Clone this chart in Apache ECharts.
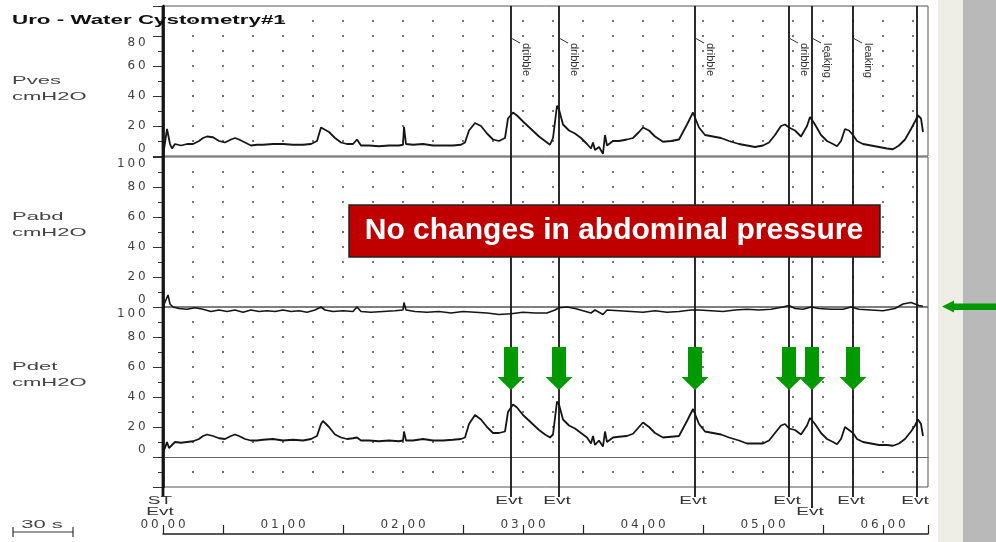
<!DOCTYPE html>
<html><head><meta charset="utf-8">
<script src="https://cdn.jsdelivr.net/npm/echarts/dist/echarts.min.js"></script>
<style>html,body{margin:0;padding:0;background:#fff}#c{width:996px;height:542px}</style>
</head><body><div id="c"></div>
<script>
// ---------------- data (time in seconds, pressure in cmH2O) ----------------
const chartTitle = 'Uro - Water Cystometry#1';
const channelNames = ['Pves', 'Pabd', 'Pdet'];
const channelUnit = 'cmH2O';
const pves = [[0,0],[1,1],[2,18],[2.5,19],[3.5,8],[4.5,5],[6,8],[9,7],[12,8],[15,8],[18,10],[20,12],[22,13],[25,12.5],[28,10],[31,9],[34,11],[36,12],[38,11],[41,9],[44,7],[47,7.5],[50,7.5],[55,8],[60,8],[65,7.5],[70,7.5],[74,8],[77,10],[79,19],[80,19.5],[83,16],[86,12],[89,9],[92,8],[95,8],[97,11],[99,7],[103,7],[108,6.5],[113,7],[118,7],[120,7.5],[120.5,19.5],[121.5,8],[125,7.5],[130,8],[135,7],[140,7],[145,7],[149,7.5],[151,9],[153,17],[156,22],[159,20],[162,15],[165,11],[168,10],[171,12],[172.5,25],[175,29],[177,27],[180,23],[184,18],[188,13],[191,10],[193.5,7.5],[195,12],[197,33.5],[198,31],[200,21],[203,17],[206,15],[209,12],[212,8],[214,5],[215,9],[216,4],[218,6],[220,1.5],[221,14],[222,7],[225,10],[228,10],[232,11],[235,12],[238,16],[240,19],[243,17],[246,13],[250,9.5],[254,10],[258,11],[262,21],[265,29],[268,19],[271,14],[275,13],[279,12],[283,10],[288,8],[292,7],[296,6],[300,7],[303,9],[306,14],[309,20],[311,21],[313,19],[316,17],[319,13],[322,20],[323.5,26],[326,21],[329,14],[332,10],[335,8],[337,6.5],[339,10],[341,18],[343,17],[345,14],[347,10],[350,8],[354,7],[358,6],[362,5],[365,4.5],[368,7],[371,11],[374,18],[376,23],[377.5,27],[379,25],[380,16]];
const pabd = [[0,0],[1,1],[2.5,8],[3.5,2],[5,0],[8,-1],[12,-1.5],[16,-0.5],[20,-1.5],[24,-3],[28,-2],[32,-3],[36,-2],[40,-3.5],[44,-2],[48,-3],[52,-2.5],[56,-3],[60,-2],[64,-3],[68,-2.5],[72,-3.5],[76,-2],[79,0],[81,-2],[85,-3],[90,-2.5],[95,-3],[97,0],[99,-3],[104,-3.5],[110,-3],[116,-2.5],[120,-2],[120.5,3],[121.5,-2],[126,-3],[132,-3.5],[138,-3],[144,-4],[150,-3],[156,-3.5],[162,-4],[168,-5],[174,-4.5],[180,-3.5],[186,-4],[192,-4],[196,-2],[198,-0.5],[202,0],[206,-1],[210,-2.5],[214,-4],[216,-2],[220,-5],[222,-2],[228,-2.5],[234,-3],[240,-3.5],[246,-2.5],[252,-3.5],[258,-3],[264,-2],[268,-2],[274,-2.5],[280,-3],[286,-2],[292,-1.5],[298,-2],[304,-1.5],[310,0],[313,1],[316,-1],[320,-1.5],[324,0],[328,-1],[334,-1.5],[340,-1.5],[344,0],[348,-1.5],[354,-2],[360,-2.5],[366,-1],[370,2],[374,3],[376,2],[378,1],[380,0.5]];
const pdet = [[0,4],[1,6],[2,10],[3,6],[4.5,8],[6,10],[9,9.5],[12,10],[15,10.5],[18,12],[20,14],[22,15],[25,14],[28,12.5],[31,12],[34,14],[36,15],[38,14],[41,12],[44,11],[47,11],[50,11.5],[55,12],[60,11],[65,11.5],[70,11],[74,12],[77,14],[79,22],[80,24],[83,20],[86,15],[89,13],[92,12],[95,12.5],[97,13],[99,11],[103,11],[108,10.5],[113,11],[118,10.5],[120,11],[120.5,17],[121.5,11],[125,11],[130,12],[135,11],[140,11],[145,11.5],[149,12],[151,13],[153,22],[156,28],[159,25],[162,20],[165,16],[168,16],[171,17],[172.5,30],[175,35],[177,33],[180,28],[184,23],[188,18],[191,15],[193.5,13],[195,15],[197,37],[198,35],[200,25],[203,21],[206,19],[209,16],[212,13],[214,9],[215,14],[216,8],[218,11],[220,7],[221,17],[222,10],[225,13],[228,13.5],[232,14],[235,15.5],[238,20],[240,23],[243,20],[246,16],[250,13],[254,13.5],[258,14],[262,24],[265,32],[268,22],[271,17],[275,16],[279,15],[283,13],[288,11],[292,9],[296,9],[300,9],[303,11],[306,16],[309,21],[311,22],[313,19],[316,18],[319,15],[322,21],[323.5,26],[326,22],[329,16],[332,12],[335,10],[337,8.5],[339,12],[341,20],[343,18],[345,16],[347,12],[350,10],[354,9],[358,8],[362,8],[365,7.5],[368,9],[371,12],[374,17],[376,21],[377.5,25],[379,22],[380,14]];
const evtTimes = [0, 174, 198, 266, 313, 324.5, 345, 377];
const evtTags  = ['', 'dribble', 'dribble', 'dribble', 'dribble', 'leaking', 'leaking', ''];
const evtMarks = ['ST\nEvt', 'Evt', 'Evt', 'Evt', 'Evt', 'Evt', 'Evt', 'Evt'];
const evtLow   = [0, 0, 0, 0, 0, 1, 0, 0];
const arrowTimes = [174, 198, 266, 313, 324.5, 345];
const minuteLabels = ['00 00', '01 00', '02 00', '03 00', '04 00', '05 00', '06 00'];
const pvesLabeled = [0, 20, 40, 60, 80];
const pabdLabeled = [0, 20, 40, 60, 80, 100];
const pdetLabeled = [0, 20, 40, 60, 80, 100];
const noteText = 'No changes in abdominal pressure';
const scaleText = '30 s';

// ---------------- layout ----------------
const L = 163, W = 765, TMAX = 382.5;
const INK = '#151515', LBL = '#404040', GREEN = '#009a00';

function spaced(s) {
  return s.split('').map(c => c === ' ' ? '{s| }' : '{d|' + c + '}').join('');
}
const richDigits = {
  d: { width: 10.5, align: 'center', fontSize: 12, fontFamily: 'DejaVu Sans', color: LBL, lineHeight: 14 },
  s: { width: 6, fontSize: 12, fontFamily: 'DejaVu Sans', color: LBL, lineHeight: 14 }
};
function yFmt(labeled, downV, upV) {
  return function (v) {
    if (!labeled.includes(v)) return '';
    const s = spaced(String(v));
    if (v === downV) return '{s| }\n' + s;
    if (v === upV) return s + '\n{s| }';
    return s;
  };
}
function dots(rows) {
  const d = [];
  for (let t = 15; t <= 375; t += 15) for (const r of rows) d.push([t, r]);
  return d;
}
const rowsStd = [10, 20, 30, 40, 50, 60, 70, 80, 90];
const rowsDet = [-10].concat(rowsStd);

function yAxisCfg(gi, min, fmt) {
  return {
    type: 'value', gridIndex: gi, min: min, max: 100, interval: 20,
    axisLine: { show: true, lineStyle: { color: '#000', width: 2.5 } },
    axisTick: { show: true, length: 10, lineStyle: { color: '#333', width: 1 } },
    minorTick: { show: true, splitNumber: 2, length: 5, lineStyle: { color: '#333', width: 1 } },
    splitLine: { show: false },
    axisLabel: { show: true, margin: 16, formatter: fmt, rich: richDigits, lineHeight: 14 }
  };
}
function xHidden(gi, showLine) {
  return {
    type: 'value', gridIndex: gi, min: 0, max: TMAX,
    axisLine: { show: !!showLine, onZero: true, lineStyle: { color: '#666', width: 1.2 } },
    axisTick: { show: false }, axisLabel: { show: false }, splitLine: { show: false }
  };
}

function renderEvt(params, api) {
  const i = params.dataIndex;
  const t = api.value(0);
  const top = api.coord([t, 1]);
  const bot = api.coord([t, 0]);
  const x = top[0];
  const low = evtLow[i];
  const kids = [];
  kids.push({ type: 'line', shape: { x1: x, y1: top[1], x2: x, y2: bot[1] + (low ? 11 : 0) },
    style: { stroke: INK, lineWidth: i === 0 ? 2.8 : 1.8 } });
  const rows = evtMarks[i].split('\n');
  rows.forEach((r, k) => {
    kids.push({ type: 'text', x: x - (i === 0 ? 3 : 2), y: bot[1] + 4 + 11 * (k + low), scaleX: 1.9,
      style: { text: r, fontSize: 10, fontFamily: 'Liberation Sans', fill: '#333',
        align: 'center', verticalAlign: 'middle', textAlign: 'center', textVerticalAlign: 'middle' } });
  });
  if (evtTags[i]) {
    kids.push({ type: 'line', shape: { x1: x, y1: top[1] + 32, x2: x + 9, y2: top[1] + 37 },
      style: { stroke: '#333', lineWidth: 1 } });
    kids.push({ type: 'text', x: x + 15, y: top[1] + 37, rotation: -Math.PI / 2,
      style: { text: evtTags[i], fontSize: 11, fontFamily: 'Liberation Sans', fill: '#333',
        align: 'left', verticalAlign: 'middle', textAlign: 'left', textVerticalAlign: 'middle' } });
  }
  return { type: 'group', children: kids };
}
function renderArrow(params, api) {
  const t = api.value(0);
  const p1 = api.coord([t, 73.3]);
  const p2 = api.coord([t, 53.3]);
  const p3 = api.coord([t, 44.7]);
  const x = p1[0];
  return { type: 'polygon', shape: { points: [[x - 7, p1[1]], [x + 7, p1[1]], [x + 7, p2[1]], [x + 13.5, p2[1]],
    [x, p3[1]], [x - 13.5, p2[1]], [x - 7, p2[1]]] }, style: { fill: GREEN } };
}

const chart = echarts.init(document.getElementById('c'), null, { renderer: 'canvas' });
const gridBase = { left: L, width: W, show: true, borderColor: '#555', borderWidth: 1, backgroundColor: 'transparent', containLabel: false, outerBoundsMode: 'none' };
const txt = (t, x, y, o) => Object.assign({ type: 'text', x: x, y: y, z: 50,
  style: Object.assign({ text: t, fontSize: 11, fontFamily: 'Liberation Sans', fill: '#444',
    align: 'left', verticalAlign: 'middle', textAlign: 'left', textVerticalAlign: 'middle' }, o.style || {}) }, o.el || {});

chart.setOption({
  animation: false,
  backgroundColor: '#fff',
  grid: [
    Object.assign({ top: 6, height: 150 }, gridBase),
    Object.assign({ top: 157, height: 150 }, gridBase),
    Object.assign({ top: 307, height: 180 }, gridBase),
    { left: L, width: W, top: 500, height: 34, show: false, containLabel: false, outerBoundsMode: 'none' },
    { left: L, width: W, top: 6, height: 491, show: false, containLabel: false, outerBoundsMode: 'none' }
  ],
  xAxis: [
    xHidden(0), xHidden(1), xHidden(2, true),
    {
      type: 'value', gridIndex: 3, min: 0, max: TMAX, interval: 30, position: 'bottom',
      axisLine: { show: true, lineStyle: { color: '#222', width: 1.5 } },
      axisTick: { show: true, inside: true, length: 9, lineStyle: { color: '#222', width: 1.2 } },
      splitLine: { show: false },
      axisLabel: { show: true, inside: true, margin: 2, rich: richDigits, lineHeight: 14,
        formatter: v => (v % 60 === 0 && minuteLabels[v / 60]) ? spaced(minuteLabels[v / 60]) : '' }
    },
    xHidden(4)
  ],
  yAxis: [
    yAxisCfg(0, 0, yFmt(pvesLabeled, 80, 0)),
    yAxisCfg(1, 0, yFmt(pabdLabeled, 100, 0)),
    yAxisCfg(2, -20, yFmt(pdetLabeled, 100, 0)),
    { type: 'value', gridIndex: 3, show: false, min: 0, max: 1 },
    { type: 'value', gridIndex: 4, show: false, min: 0, max: 1 }
  ],
  series: [
    { type: 'scatter', xAxisIndex: 0, yAxisIndex: 0, data: dots(rowsStd), symbol: 'rect', symbolSize: 2, itemStyle: { color: '#555' }, silent: true, z: 1 },
    { type: 'scatter', xAxisIndex: 1, yAxisIndex: 1, data: dots(rowsStd), symbol: 'rect', symbolSize: 2, itemStyle: { color: '#555' }, silent: true, z: 1 },
    { type: 'scatter', xAxisIndex: 2, yAxisIndex: 2, data: dots(rowsDet), symbol: 'rect', symbolSize: 2, itemStyle: { color: '#555' }, silent: true, z: 1 },
    { name: channelNames[0], type: 'line', xAxisIndex: 0, yAxisIndex: 0, data: pves, showSymbol: false, clip: false, lineStyle: { color: INK, width: 1.8 }, z: 3 },
    { name: channelNames[1], type: 'line', xAxisIndex: 1, yAxisIndex: 1, data: pabd, showSymbol: false, clip: false, lineStyle: { color: INK, width: 1.6 }, z: 3 },
    { name: channelNames[2], type: 'line', xAxisIndex: 2, yAxisIndex: 2, data: pdet, showSymbol: false, clip: false, lineStyle: { color: INK, width: 1.8 }, z: 3 },
    { type: 'custom', xAxisIndex: 4, yAxisIndex: 4, data: evtTimes.map(t => [t, 0]), renderItem: renderEvt, z: 5, silent: true },
    { type: 'custom', xAxisIndex: 2, yAxisIndex: 2, data: arrowTimes.map(t => [t, 0]), renderItem: renderArrow, z: 6, silent: true }
  ],
  graphic: [
    { type: 'rect', shape: { x: 938, y: 0, width: 25, height: 542 }, style: { fill: '#eeeee6' }, z: 0 },
    { type: 'rect', shape: { x: 963, y: 0, width: 33, height: 542 }, style: { fill: '#b9b9b9' }, z: 0 },
    txt(chartTitle, 12, 20, { style: { fontSize: 13, fontWeight: 'bold', fill: '#111' }, el: { scaleX: 1.72 } }),
    txt(channelNames[0], 12, 81, { el: { scaleX: 2.0 } }),
    txt(channelUnit, 12, 97, { el: { scaleX: 2.0 } }),
    txt(channelNames[1], 12, 217, { el: { scaleX: 2.0 } }),
    txt(channelUnit, 12, 233, { el: { scaleX: 2.0 } }),
    txt(channelNames[2], 12, 367, { el: { scaleX: 2.0 } }),
    txt(channelUnit, 12, 383, { el: { scaleX: 2.0 } }),
    { type: 'line', shape: { x1: 13, y1: 532, x2: 73, y2: 532 }, style: { stroke: '#333', lineWidth: 1.2 }, z: 50 },
    { type: 'line', shape: { x1: 13, y1: 527, x2: 13, y2: 537 }, style: { stroke: '#333', lineWidth: 1.2 }, z: 50 },
    { type: 'line', shape: { x1: 73, y1: 527, x2: 73, y2: 537 }, style: { stroke: '#333', lineWidth: 1.2 }, z: 50 },
    txt(scaleText, 42, 525, { style: { align: 'center', textAlign: 'center' }, el: { scaleX: 2.0 } }),
    { type: 'rect', shape: { x: 349, y: 205, width: 531, height: 52 }, style: { fill: '#c00000', stroke: '#222', lineWidth: 1.5 }, z: 60 },
    txt(noteText, 614, 231, { style: { fontSize: 30, fontWeight: 'bold', fill: '#fff', align: 'center', textAlign: 'center' }, el: { z: 61 } }),
    { type: 'polygon', shape: { points: [[942, 306.5], [954, 300.5], [954, 303.5], [996, 303.5], [996, 310], [954, 310], [954, 312.5]] }, style: { fill: GREEN }, z: 60 }
  ]
});
</script>
</body></html>
